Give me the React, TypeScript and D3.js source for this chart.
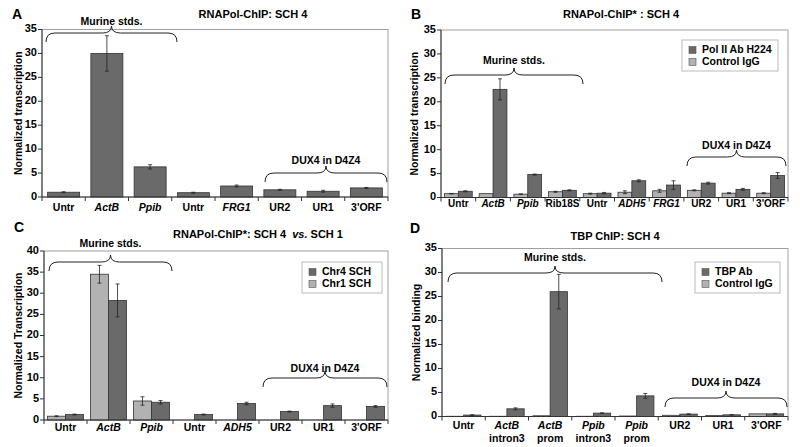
import React from "react";
import * as d3 from "d3";

const FONT = "'Liberation Sans', Arial, Helvetica, sans-serif";
const DARK = "#6a6a6a";
const LIGHT = "#b2b2b2";
const ITALIC = ["ActB", "Ppib", "FRG1", "ADH5"];

// Panel A
const catsA = ["Untr", "ActB", "Ppib", "Untr", "FRG1", "UR2", "UR1", "3'ORF"];
const valsA = [1.0, 30.0, 6.3, 0.9, 2.3, 1.5, 1.2, 1.9];
const errA = [0.1, 3.7, 0.45, 0.1, 0.2, 0.1, 0.2, 0.1];

// Panel B
const catsB = ["Untr", "ActB", "Ppib", "Rib18S", "Untr", "ADH5", "FRG1", "UR2", "UR1", "3'ORF"];
const igB = [0.8, 0.8, 0.7, 1.2, 0.8, 1.1, 1.4, 1.5, 0.9, 0.9];
const errIgB = [0.05, 0, 0.05, 0.1, 0.1, 0.3, 0.3, 0.1, 0.1, 0.1];
const polB = [1.3, 22.6, 4.8, 1.5, 0.9, 3.5, 2.6, 3.0, 1.7, 4.6];
const errPolB = [0.1, 2.2, 0.1, 0.1, 0.15, 0.2, 0.9, 0.2, 0.2, 0.6];

// Panel C
const catsC = ["Untr", "ActB", "Ppib", "Untr", "ADH5", "UR2", "UR1", "3'ORF"];
const chr1C = [0.9, 34.5, 4.5, 0, 0, 0, 0, 0];
const errChr1C = [0.1, 2.1, 1.0, 0, 0, 0, 0, 0];
const chr4C = [1.3, 28.3, 4.2, 1.3, 3.9, 2.0, 3.4, 3.2];
const errChr4C = [0.1, 3.9, 0.4, 0.1, 0.3, 0.1, 0.4, 0.2];

// Panel D
const catsD = ["Untr", "ActB", "ActB", "Ppib", "Ppib", "UR2", "UR1", "3'ORF"];
const catsD2 = ["", "intron3", "prom", "intron3", "prom", "", "", ""];
const igD = [0.05, 0.05, 0.15, 0.05, 0.1, 0.25, 0.2, 0.55];
const errIgD = [0, 0, 0, 0, 0, 0, 0, 0];
const tbpD = [0.3, 1.6, 26.0, 0.7, 4.3, 0.5, 0.35, 0.55];
const errTbpD = [0.05, 0.2, 3.6, 0.05, 0.5, 0.05, 0.05, 0.1];

type Series = { values: number[]; errs: number[]; fill: string };
type Brace = { x1: number; x2: number; y: number; label: string; ly: number; lx?: number };
type Legend = { x: number; y: number; w: number; h: number; items: { label: string; fill: string }[] };

interface PanelProps {
  letter: string;
  letterX: number;
  letterY: number;
  title: React.ReactNode;
  titleX: number;
  titleY: number;
  x0: number;
  x1: number;
  y0: number;
  y1: number;
  yMax: number;
  cats: string[];
  cats2?: string[];
  series: Series[];
  barFrac: number;
  yLabel: string;
  yLabelX: number;
  tickLabelY: number;
  tickFont?: number;
  braces: Brace[];
  legend?: Legend;
}

function bracePath(x1: number, x2: number, y: number) {
  const xm = (x1 + x2) / 2;
  const r = 9;
  const drop = 9;
  const peak = 7;
  return `M${x1},${y + drop} Q${x1},${y} ${x1 + r},${y} L${xm - r},${y} Q${xm},${y} ${xm},${y - peak} Q${xm},${y} ${xm + r},${y} L${x2 - r},${y} Q${x2},${y} ${x2},${y + drop}`;
}

function Panel(p: PanelProps) {
  const xBand = d3.scaleBand<number>().domain(d3.range(p.cats.length)).range([p.x0, p.x1]).padding(0);
  const y = d3.scaleLinear().domain([0, p.yMax]).range([p.y1, p.y0]);
  const bw = xBand.bandwidth();
  const gw = bw * p.barFrac;
  const n = p.series.length;
  const sw = gw / n;
  const ticks = d3.range(0, p.yMax + 0.001, 5);
  const tf = p.tickFont ?? 10.5;
  return (
    <g>
      <text x={p.letterX} y={p.letterY} fontFamily={FONT} fontWeight="bold" fontSize={14} dominantBaseline="middle" textAnchor="middle">{p.letter}</text>
      <text x={p.titleX} y={p.titleY} fontFamily={FONT} fontWeight="bold" fontSize={11} dominantBaseline="middle" textAnchor="middle">{p.title}</text>
      <rect x={p.x0} y={p.y0} width={p.x1 - p.x0} height={p.y1 - p.y0} fill="white" stroke="#a0a0a0" strokeWidth={1} />
      {p.series.map((s, si) =>
        s.values.map((v, i) => {
          if (v <= 0) return null;
          const bx = (xBand(i) as number) + (bw - gw) / 2 + si * sw;
          const e = s.errs[i];
          const cx = bx + sw / 2;
          return (
            <g key={`${si}-${i}`}>
              <rect x={bx} y={y(v)} width={sw} height={p.y1 - y(v)} fill={s.fill} stroke="#333" strokeWidth={0.8} />
              {e > 0 && (
                <g stroke="#222" strokeWidth={0.8}>
                  <line x1={cx} x2={cx} y1={y(v + e)} y2={y(Math.max(0, v - e))} />
                  <line x1={cx - 2} x2={cx + 2} y1={y(v + e)} y2={y(v + e)} />
                  <line x1={cx - 2} x2={cx + 2} y1={y(Math.max(0, v - e))} y2={y(Math.max(0, v - e))} />
                </g>
              )}
            </g>
          );
        })
      )}
      <line x1={p.x0} x2={p.x0} y1={p.y0} y2={p.y1} stroke="#333" strokeWidth={1} />
      <line x1={p.x0} x2={p.x1} y1={p.y1} y2={p.y1} stroke="#333" strokeWidth={1} />
      {ticks.map((t) => (
        <g key={t}>
          <line x1={p.x0 - 4} x2={p.x0} y1={y(t)} y2={y(t)} stroke="#333" strokeWidth={1} />
          <text x={p.x0 - 5} y={y(t)} fontFamily={FONT} fontWeight="bold" fontSize={11} textAnchor="end" dominantBaseline="middle">{t}</text>
        </g>
      ))}
      {d3.range(p.cats.length + 1).map((i) => {
        const tx = p.x0 + i * bw;
        return <line key={i} x1={tx} x2={tx} y1={p.y1} y2={p.y1 + 4} stroke="#333" strokeWidth={1} />;
      })}
      {p.cats.map((c, i) => {
        const cx = (xBand(i) as number) + bw / 2;
        return (
          <g key={i}>
            <text x={cx} y={p.tickLabelY} fontFamily={FONT} fontWeight="bold" fontSize={tf} textAnchor="middle" dominantBaseline="middle" fontStyle={ITALIC.includes(c) ? "italic" : "normal"}>{c}</text>
            {p.cats2 && p.cats2[i] && (
              <text x={cx} y={p.tickLabelY + 13.5} fontFamily={FONT} fontWeight="bold" fontSize={tf} textAnchor="middle" dominantBaseline="middle">{p.cats2[i]}</text>
            )}
          </g>
        );
      })}
      <text transform={`translate(${p.yLabelX},${(p.y0 + p.y1) / 2}) rotate(-90)`} fontFamily={FONT} fontWeight="bold" fontSize={10.5} textAnchor="middle" dominantBaseline="middle">{p.yLabel}</text>
      {p.braces.map((b, i) => (
        <g key={i}>
          <path d={bracePath(b.x1, b.x2, b.y)} fill="none" stroke="#222" strokeWidth={1} />
          <text x={b.lx ?? (b.x1 + b.x2) / 2} y={b.ly} fontFamily={FONT} fontWeight="bold" fontSize={10.5} textAnchor="middle" dominantBaseline="middle">{b.label}</text>
        </g>
      ))}
      {p.legend && (
        <g>
          <rect x={p.legend.x} y={p.legend.y} width={p.legend.w} height={p.legend.h} fill="white" stroke="#bbb" strokeWidth={1} />
          {p.legend.items.map((it, i) => {
            const iy = p.legend!.y + 10 + i * 12;
            return (
              <g key={i}>
                <rect x={p.legend!.x + 7} y={iy - 3.5} width={7} height={7} fill={it.fill} stroke="#555" strokeWidth={0.6} />
                <text x={p.legend!.x + 20} y={iy} fontFamily={FONT} fontWeight="bold" fontSize={10.5} dominantBaseline="middle">{it.label}</text>
              </g>
            );
          })}
        </g>
      )}
    </g>
  );
}

export default function App() {
  return (
    <svg width={800} height={447} style={{ position: "absolute", left: 0, top: 0, background: "white" }}>
      <rect width={800} height={447} fill="white" />
      <Panel
        letter="A" letterX={17} letterY={15}
        title="RNAPol-ChIP: SCH 4" titleX={253} titleY={15}
        x0={42} x1={388} y0={29.5} y1={197} yMax={35}
        cats={catsA}
        series={[{ values: valsA, errs: errA, fill: DARK }]}
        barFrac={0.74}
        yLabel="Normalized transcription" yLabelX={19}
        tickLabelY={208}
        braces={[
          { x1: 46, x2: 177, y: 33, label: "Murine stds.", ly: 22 },
          { x1: 265, x2: 387, y: 173, label: "DUX4 in D4Z4", ly: 161 },
        ]}
      />
      <Panel
        letter="B" letterX={416} letterY={15}
        title="RNAPol-ChIP* : SCH 4" titleX={621} titleY={15}
        x0={441} x1={788} y0={30} y1={197.5} yMax={35}
        cats={catsB}
        series={[
          { values: igB, errs: errIgB, fill: LIGHT },
          { values: polB, errs: errPolB, fill: DARK },
        ]}
        barFrac={0.8}
        yLabel="Normalized transcription" yLabelX={415}
        tickLabelY={204}
        tickFont={10}
        braces={[
          { x1: 445, x2: 583, y: 75, label: "Murine stds.", ly: 61.5 },
          { x1: 687, x2: 786, y: 157, label: "DUX4 in D4Z4", ly: 146 },
        ]}
        legend={{ x: 682, y: 40, w: 96, h: 31, items: [
          { label: "Pol II Ab H224", fill: DARK },
          { label: "Control IgG", fill: LIGHT },
        ] }}
      />
      <Panel
        letter="C" letterX={19} letterY={228}
        title={<>RNAPol-ChIP*: SCH 4{"\u00a0\u00a0"}<tspan fontStyle="italic">vs.</tspan> SCH 1</>} titleX={258} titleY={235}
        x0={44} x1={388} y0={251} y1={420} yMax={40}
        cats={catsC}
        series={[
          { values: chr1C, errs: errChr1C, fill: LIGHT },
          { values: chr4C, errs: errChr4C, fill: DARK },
        ]}
        barFrac={0.84}
        yLabel="Normalized Transcription" yLabelX={19}
        tickLabelY={428}
        braces={[
          { x1: 49, x2: 172, y: 262, label: "Murine stds.", ly: 244 },
          { x1: 263, x2: 387, y: 378, label: "DUX4 in D4Z4", ly: 369 },
        ]}
        legend={{ x: 302, y: 262, w: 80, h: 31, items: [
          { label: "Chr4 SCH", fill: DARK },
          { label: "Chr1 SCH", fill: LIGHT },
        ] }}
      />
      <Panel
        letter="D" letterX={415} letterY={229}
        title="TBP ChIP: SCH 4" titleX={615} titleY={237}
        x0={442} x1={788} y0={248.5} y1={416.5} yMax={35}
        cats={catsD} cats2={catsD2}
        series={[
          { values: igD, errs: errIgD, fill: LIGHT },
          { values: tbpD, errs: errTbpD, fill: DARK },
        ]}
        barFrac={0.8}
        yLabel="Normalized binding" yLabelX={417}
        tickLabelY={426}
        braces={[
          { x1: 448, x2: 662, y: 273, label: "Murine stds.", ly: 258 },
          { x1: 665, x2: 787, y: 398, label: "DUX4 in D4Z4", ly: 383 },
        ]}
        legend={{ x: 695, y: 262, w: 85, h: 31, items: [
          { label: "TBP Ab", fill: DARK },
          { label: "Control IgG", fill: LIGHT },
        ] }}
      />
    </svg>
  );
}
